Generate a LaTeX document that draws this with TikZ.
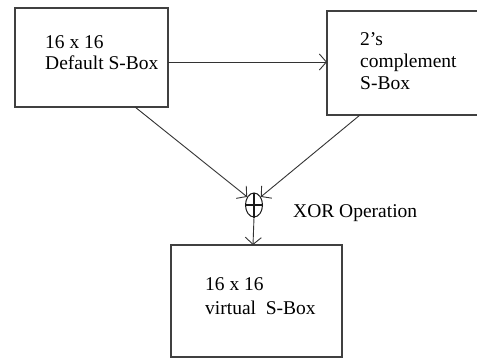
\documentclass[tikz,border=0pt]{standalone}
\usepackage{fontspec}
\setmainfont{Liberation Serif}
\usetikzlibrary{arrows.meta,calc,shapes.geometric}
\begin{document}
\begin{tikzpicture}[x=1pt,y=-1pt,
  boxline/.style={draw=black!75,line width=1.3pt},
  wire/.style={draw=black!80,line width=0.9pt},
  tip/.style={-{Straight Barb[length=7pt,width=16pt,line width=0.9pt]}},
  lbl/.style={anchor=base west,inner sep=0pt,font=\fontsize{19.5}{23}\selectfont},
  ]
\useasboundingbox (0,0) rectangle (477,360);
\fill[white] (0,0) rectangle (477,360);

% the three S-box blocks
\draw[boxline] (15,8) rectangle (168,107);
\draw[boxline] (327,11) rectangle (490,115);
\draw[boxline] (171,245) rectangle (342,357);
\coordinate (b1e) at (168,62);
\coordinate (b1s) at (135,107);
\coordinate (b2w) at (327,62);
\coordinate (b2s) at (360,115);
\coordinate (b3n) at (253,245);

% block texts
\node[lbl] (t1a) at (45,48) {16 x 16};
\node[lbl] (t1b) at (45,69) {Default S-Box};
\node[lbl] (t2a) at (360,45) {2's};
\node[lbl] (t2b) at (360,67) {complement};
\node[lbl] (t2c) at (360,89) {S-Box};
\node[lbl] (t3a) at (205,290) {16 x 16};
\node[lbl] (t3b) at (205,314) {virtual\ \ S-Box};

% XOR symbol
\node[ellipse,draw=black!90,line width=1pt,minimum width=17pt,minimum height=24pt,inner sep=0pt] (xor) at (254,205) {};
\draw[wire,draw=black!90,line width=1.1pt] (xor.north) -- (xor.south) (xor.west) -- (xor.east);
\node[lbl] (xl) at (293,217) {XOR Operation};

% connectors
\draw[wire,tip] (b1e) -- (b2w);
\draw[wire,tip] (b1s) -- (xor.130);
\draw[wire,tip] (b2s) -- (xor.50);
\draw[wire,tip] (xor.south) -- (b3n);
\end{tikzpicture}
\end{document}
